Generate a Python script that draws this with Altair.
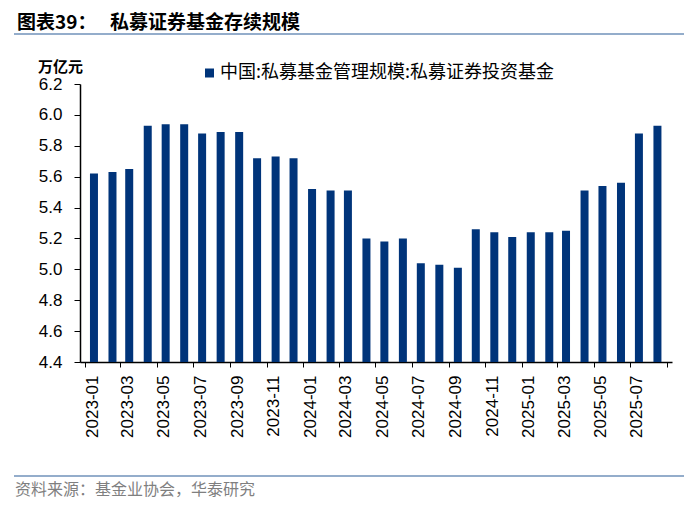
import altair as alt
import pandas as pd

months = [
    "2023-01", "2023-02", "2023-03", "2023-04", "2023-05", "2023-06",
    "2023-07", "2023-08", "2023-09", "2023-10", "2023-11", "2023-12",
    "2024-01", "2024-02", "2024-03", "2024-04", "2024-05", "2024-06",
    "2024-07", "2024-08", "2024-09", "2024-10", "2024-11", "2024-12",
    "2025-01", "2025-02", "2025-03", "2025-04", "2025-05", "2025-06",
    "2025-07", "2025-08",
]
values = [
    5.62, 5.63, 5.65, 5.93, 5.94, 5.94, 5.88, 5.89, 5.89, 5.72, 5.73, 5.72,
    5.52, 5.51, 5.51, 5.20, 5.18, 5.20, 5.04, 5.03, 5.01, 5.26, 5.24, 5.21,
    5.24, 5.24, 5.25, 5.51, 5.54, 5.56, 5.88, 5.93,
]
tick_months = [
    (2023, 1), (2023, 3), (2023, 5), (2023, 7), (2023, 9), (2023, 11),
    (2024, 1), (2024, 3), (2024, 5), (2024, 7), (2024, 9), (2024, 11),
    (2025, 1), (2025, 3), (2025, 5), (2025, 7), (2025, 9),
]
y_ticks = [4.4, 4.6, 4.8, 5.0, 5.2, 5.4, 5.6, 5.8, 6.0, 6.2]
y_min, y_max = 4.4, 6.2

series_name = "中国:私募基金管理规模:私募证券投资基金"
title_num = "图表39："
title_text = "私募证券基金存续规模"
unit_text = "万亿元"
source_text = "资料来源：基金业协会，华泰研究"

NAVY = "#00347A"
LINE = "#94ADCB"
CJK = "Noto Sans CJK SC"
LAT = "Liberation Sans"

df = pd.DataFrame({"date": [m + "-16" for m in months], "value": values})

x_values = [alt.DateTime(year=y, month=m, date=1, utc=True) for y, m in tick_months]

bars = alt.Chart(df).mark_bar(size=8, color=NAVY, clip=True).encode(
    x=alt.X(
        "date:T",
        scale=alt.Scale(
            type="utc",
            domain=[alt.DateTime(year=2023, month=1, date=1, utc=True),
                    alt.DateTime(year=2025, month=9, date=1, utc=True)],
            nice=False,
        ),
        axis=alt.Axis(
            values=x_values,
            format="%Y-%m",
            labelExpr="datum.label == '2025-09' ? '' : datum.label",
            labelAngle=270,
            labelOffset=7,
            labelPadding=8,
            labelFont=LAT,
            labelFontSize=17,
            labelColor="black",
            labelOverlap=False,
            labelFlush=False,
            tickSize=5,
            tickColor="black",
            domainColor="black",
            domainWidth=1.5,
            grid=False,
            title=None,
        ),
    ),
    y=alt.Y(
        "value:Q",
        scale=alt.Scale(domain=[y_min, y_max], nice=False, zero=False),
        axis=alt.Axis(
            values=y_ticks,
            format=".1f",
            labelFont=LAT,
            labelFontSize=17,
            labelColor="black",
            labelPadding=12,
            tickSize=6,
            tickColor="black",
            domainColor="black",
            domainWidth=1.5,
            grid=False,
            title=None,
        ),
    ),
    y2=alt.datum(y_min),
)

one = pd.DataFrame({"k": [0]})


def txt(s, x, y, size, color="black", weight="normal", font=CJK):
    return alt.Chart(one).mark_text(
        align="left", baseline="middle", font=font, fontSize=size,
        fontWeight=weight, color=color,
    ).encode(x=alt.value(x), y=alt.value(y), text=alt.value(s))


def hline(y):
    return alt.Chart(one).mark_rule(color=LINE, strokeWidth=2).encode(
        x=alt.value(-66), x2=alt.value(604), y=alt.value(y)
    )


legend_sq = alt.Chart(one).mark_square(size=81, color=NAVY, opacity=1, filled=True).encode(
    x=alt.value(129.5), y=alt.value(-11)
)

chart = alt.layer(
    bars,
    txt(title_num, -63, -61, 19, weight="bold"),
    txt(title_text, 30, -61, 19, weight="bold"),
    hline(-50),
    txt(unit_text, -42, -17, 15, weight="bold"),
    legend_sq,
    txt(series_name, 140, -11, 18),
    hline(392),
    txt(source_text, -65, 406, 16, color="#7F7F7F"),
).properties(
    width=592,
    height=278,
    autosize=alt.AutoSizeParams(type="none"),
    padding={"left": 72, "top": 76, "right": 20, "bottom": 138},
).configure_view(stroke=None)

chart.save("out.html", embed_options={"renderer": "svg", "actions": False})
